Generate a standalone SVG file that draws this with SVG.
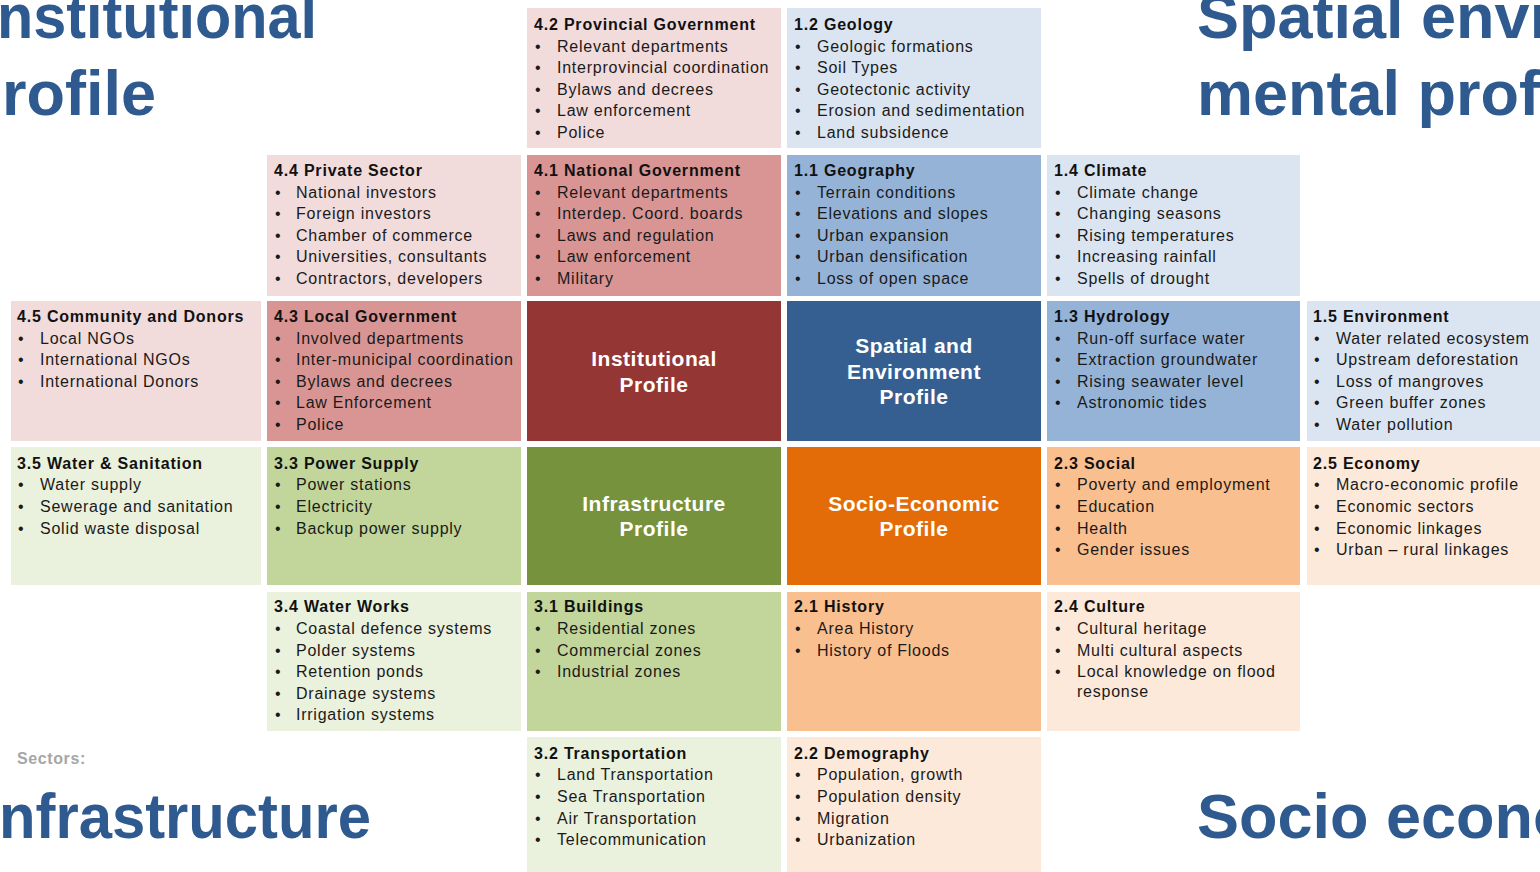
<svg xmlns="http://www.w3.org/2000/svg" width="1540" height="872" viewBox="0 0 1540 872">
<style>
.big{font-family:"Liberation Sans",Arial,sans-serif;font-weight:bold;font-size:63px;fill:#2F5A8F}
.t{font-family:"Liberation Sans",Arial,sans-serif;font-weight:bold;font-size:16px;fill:#111;letter-spacing:0.8px}
.i{font-family:"Liberation Sans",Arial,sans-serif;font-size:16px;fill:#1a1a1a;letter-spacing:0.75px}
.c{font-family:"Liberation Sans",Arial,sans-serif;font-weight:bold;font-size:21px;fill:#fff;text-anchor:middle;letter-spacing:0.5px}
.sec{font-family:"Liberation Sans",Arial,sans-serif;font-weight:bold;font-size:16px;fill:#A6A6A6;letter-spacing:0.6px}
.pk{fill:#F2DBDB}.rd{fill:#D99594}.dr{fill:#943634}
.lb{fill:#DBE5F1}.mb{fill:#95B3D7}.db{fill:#365F91}
.lg{fill:#EAF1DD}.mg{fill:#C2D69B}.dg{fill:#76923C}
.lo{fill:#FDE9D9}.mo{fill:#FABF8F}.do{fill:#E36C09}
</style>
<rect width="1540" height="872" fill="#fff"/>

<g id="bigtext">
<text class="big" x="-3" y="38" textLength="320" lengthAdjust="spacingAndGlyphs">nstitutional</text>
<text class="big" x="2" y="115">rofile</text>
<text class="big" x="1197" y="38">Spatial envi</text>
<text class="big" x="1197" y="115">mental prof</text>
<text class="big" x="-1" y="838" textLength="372" lengthAdjust="spacingAndGlyphs">nfrastructure</text>
<text class="big" x="1197" y="838">Socio econo</text>
<text class="sec" x="17" y="764">Sectors:</text>
</g>

<!-- Row 0 -->
<g id="n42">
<rect class="pk" x="527" y="8" width="254" height="140"/>
<text class="t" x="534" y="29.5">4.2 Provincial Government</text>
<text class="i" x="535" y="51.5">•</text><text class="i" x="557" y="51.5">Relevant departments</text>
<text class="i" x="535" y="73">•</text><text class="i" x="557" y="73">Interprovincial coordination</text>
<text class="i" x="535" y="94.5">•</text><text class="i" x="557" y="94.5">Bylaws and decrees</text>
<text class="i" x="535" y="116">•</text><text class="i" x="557" y="116">Law enforcement</text>
<text class="i" x="535" y="137.5">•</text><text class="i" x="557" y="137.5">Police</text>
</g>
<g id="n12">
<rect class="lb" x="787" y="8" width="254" height="140"/>
<text class="t" x="794" y="29.5">1.2 Geology</text>
<text class="i" x="795" y="51.5">•</text><text class="i" x="817" y="51.5">Geologic formations</text>
<text class="i" x="795" y="73">•</text><text class="i" x="817" y="73">Soil Types</text>
<text class="i" x="795" y="94.5">•</text><text class="i" x="817" y="94.5">Geotectonic activity</text>
<text class="i" x="795" y="116">•</text><text class="i" x="817" y="116">Erosion and sedimentation</text>
<text class="i" x="795" y="137.5">•</text><text class="i" x="817" y="137.5">Land subsidence</text>
</g>

<!-- Row 1 -->
<g id="n44">
<rect class="pk" x="267" y="155" width="254" height="141"/>
<text class="t" x="274" y="175.5">4.4 Private Sector</text>
<text class="i" x="275" y="197.5">•</text><text class="i" x="296" y="197.5">National investors</text>
<text class="i" x="275" y="219">•</text><text class="i" x="296" y="219">Foreign investors</text>
<text class="i" x="275" y="240.5">•</text><text class="i" x="296" y="240.5">Chamber of commerce</text>
<text class="i" x="275" y="262">•</text><text class="i" x="296" y="262">Universities, consultants</text>
<text class="i" x="275" y="283.5">•</text><text class="i" x="296" y="283.5">Contractors, developers</text>
</g>
<g id="n41">
<rect class="rd" x="527" y="155" width="254" height="141"/>
<text class="t" x="534" y="175.5">4.1 National Government</text>
<text class="i" x="535" y="197.5">•</text><text class="i" x="557" y="197.5">Relevant departments</text>
<text class="i" x="535" y="219">•</text><text class="i" x="557" y="219">Interdep. Coord. boards</text>
<text class="i" x="535" y="240.5">•</text><text class="i" x="557" y="240.5">Laws and regulation</text>
<text class="i" x="535" y="262">•</text><text class="i" x="557" y="262">Law enforcement</text>
<text class="i" x="535" y="283.5">•</text><text class="i" x="557" y="283.5">Military</text>
</g>
<g id="n11">
<rect class="mb" x="787" y="155" width="254" height="141"/>
<text class="t" x="794" y="175.5">1.1 Geography</text>
<text class="i" x="795" y="197.5">•</text><text class="i" x="817" y="197.5">Terrain conditions</text>
<text class="i" x="795" y="219">•</text><text class="i" x="817" y="219">Elevations and slopes</text>
<text class="i" x="795" y="240.5">•</text><text class="i" x="817" y="240.5">Urban expansion</text>
<text class="i" x="795" y="262">•</text><text class="i" x="817" y="262">Urban densification</text>
<text class="i" x="795" y="283.5">•</text><text class="i" x="817" y="283.5">Loss of open space</text>
</g>
<g id="n14">
<rect class="lb" x="1047" y="155" width="253" height="141"/>
<text class="t" x="1054" y="175.5">1.4 Climate</text>
<text class="i" x="1055" y="197.5">•</text><text class="i" x="1077" y="197.5">Climate change</text>
<text class="i" x="1055" y="219">•</text><text class="i" x="1077" y="219">Changing seasons</text>
<text class="i" x="1055" y="240.5">•</text><text class="i" x="1077" y="240.5">Rising temperatures</text>
<text class="i" x="1055" y="262">•</text><text class="i" x="1077" y="262">Increasing rainfall</text>
<text class="i" x="1055" y="283.5">•</text><text class="i" x="1077" y="283.5">Spells of drought</text>
</g>

<!-- Row 2 -->
<g id="n45">
<rect class="pk" x="11" y="301" width="250" height="140"/>
<text class="t" x="17" y="321.5">4.5 Community and Donors</text>
<text class="i" x="18" y="343.5">•</text><text class="i" x="40" y="343.5">Local NGOs</text>
<text class="i" x="18" y="365">•</text><text class="i" x="40" y="365">International NGOs</text>
<text class="i" x="18" y="386.5">•</text><text class="i" x="40" y="386.5">International Donors</text>
</g>
<g id="n43">
<rect class="rd" x="267" y="301" width="254" height="140"/>
<text class="t" x="274" y="321.5">4.3 Local Government</text>
<text class="i" x="275" y="343.5">•</text><text class="i" x="296" y="343.5">Involved departments</text>
<text class="i" x="275" y="365">•</text><text class="i" x="296" y="365">Inter-municipal coordination</text>
<text class="i" x="275" y="386.5">•</text><text class="i" x="296" y="386.5">Bylaws and decrees</text>
<text class="i" x="275" y="408">•</text><text class="i" x="296" y="408">Law Enforcement</text>
<text class="i" x="275" y="429.5">•</text><text class="i" x="296" y="429.5">Police</text>
</g>
<g id="inst">
<rect class="dr" x="527" y="301" width="254" height="140"/>
<text class="c" x="654" y="365.5">Institutional</text>
<text class="c" x="654" y="391.5">Profile</text>
</g>
<g id="spat">
<rect class="db" x="787" y="301" width="254" height="140"/>
<text class="c" x="914" y="352.5">Spatial and</text>
<text class="c" x="914" y="378.5">Environment</text>
<text class="c" x="914" y="403.5">Profile</text>
</g>
<g id="n13">
<rect class="mb" x="1047" y="301" width="253" height="140"/>
<text class="t" x="1054" y="321.5">1.3 Hydrology</text>
<text class="i" x="1055" y="343.5">•</text><text class="i" x="1077" y="343.5">Run-off surface  water</text>
<text class="i" x="1055" y="365">•</text><text class="i" x="1077" y="365">Extraction groundwater</text>
<text class="i" x="1055" y="386.5">•</text><text class="i" x="1077" y="386.5">Rising seawater level</text>
<text class="i" x="1055" y="408">•</text><text class="i" x="1077" y="408">Astronomic tides</text>
</g>
<g id="n15">
<rect class="lb" x="1307" y="301" width="233" height="140"/>
<text class="t" x="1313" y="321.5">1.5 Environment</text>
<text class="i" x="1314" y="343.5">•</text><text class="i" x="1336" y="343.5">Water related ecosystem</text>
<text class="i" x="1314" y="365">•</text><text class="i" x="1336" y="365">Upstream deforestation</text>
<text class="i" x="1314" y="386.5">•</text><text class="i" x="1336" y="386.5">Loss of mangroves</text>
<text class="i" x="1314" y="408">•</text><text class="i" x="1336" y="408">Green buffer zones</text>
<text class="i" x="1314" y="429.5">•</text><text class="i" x="1336" y="429.5">Water pollution</text>
</g>

<!-- Row 3 -->
<g id="n35">
<rect class="lg" x="11" y="447" width="250" height="138"/>
<text class="t" x="17" y="468.5">3.5 Water &amp; Sanitation</text>
<text class="i" x="18" y="490">•</text><text class="i" x="40" y="490">Water supply</text>
<text class="i" x="18" y="512">•</text><text class="i" x="40" y="512">Sewerage and sanitation</text>
<text class="i" x="18" y="533.5">•</text><text class="i" x="40" y="533.5">Solid waste disposal</text>
</g>
<g id="n33">
<rect class="mg" x="267" y="447" width="254" height="138"/>
<text class="t" x="274" y="468.5">3.3 Power Supply</text>
<text class="i" x="275" y="490">•</text><text class="i" x="296" y="490">Power stations</text>
<text class="i" x="275" y="512">•</text><text class="i" x="296" y="512">Electricity</text>
<text class="i" x="275" y="533.5">•</text><text class="i" x="296" y="533.5">Backup power supply</text>
</g>
<g id="infra">
<rect class="dg" x="527" y="447" width="254" height="138"/>
<text class="c" x="654" y="510.5">Infrastructure</text>
<text class="c" x="654" y="535.5">Profile</text>
</g>
<g id="socio">
<rect class="do" x="787" y="447" width="254" height="138"/>
<text class="c" x="914" y="510.5">Socio-Economic</text>
<text class="c" x="914" y="535.5">Profile</text>
</g>
<g id="n23">
<rect class="mo" x="1047" y="447" width="253" height="138"/>
<text class="t" x="1054" y="468.5">2.3 Social</text>
<text class="i" x="1055" y="490">•</text><text class="i" x="1077" y="490">Poverty and employment</text>
<text class="i" x="1055" y="512">•</text><text class="i" x="1077" y="512">Education</text>
<text class="i" x="1055" y="533.5">•</text><text class="i" x="1077" y="533.5">Health</text>
<text class="i" x="1055" y="555">•</text><text class="i" x="1077" y="555">Gender issues</text>
</g>
<g id="n25">
<rect class="lo" x="1307" y="447" width="233" height="138"/>
<text class="t" x="1313" y="468.5">2.5 Economy</text>
<text class="i" x="1314" y="490">•</text><text class="i" x="1336" y="490">Macro-economic profile</text>
<text class="i" x="1314" y="512">•</text><text class="i" x="1336" y="512">Economic sectors</text>
<text class="i" x="1314" y="533.5">•</text><text class="i" x="1336" y="533.5">Economic linkages</text>
<text class="i" x="1314" y="555">•</text><text class="i" x="1336" y="555">Urban – rural linkages</text>
</g>

<!-- Row 4 -->
<g id="n34">
<rect class="lg" x="267" y="592" width="254" height="139"/>
<text class="t" x="274" y="611.5">3.4 Water Works</text>
<text class="i" x="275" y="633.5">•</text><text class="i" x="296" y="633.5">Coastal defence systems</text>
<text class="i" x="275" y="655.5">•</text><text class="i" x="296" y="655.5">Polder systems</text>
<text class="i" x="275" y="677">•</text><text class="i" x="296" y="677">Retention ponds</text>
<text class="i" x="275" y="698.5">•</text><text class="i" x="296" y="698.5">Drainage systems</text>
<text class="i" x="275" y="720">•</text><text class="i" x="296" y="720">Irrigation systems</text>
</g>
<g id="n31">
<rect class="mg" x="527" y="592" width="254" height="139"/>
<text class="t" x="534" y="611.5">3.1 Buildings</text>
<text class="i" x="535" y="633.5">•</text><text class="i" x="557" y="633.5">Residential zones</text>
<text class="i" x="535" y="655.5">•</text><text class="i" x="557" y="655.5">Commercial zones</text>
<text class="i" x="535" y="677">•</text><text class="i" x="557" y="677">Industrial zones</text>
</g>
<g id="n21">
<rect class="mo" x="787" y="592" width="254" height="139"/>
<text class="t" x="794" y="611.5">2.1 History</text>
<text class="i" x="795" y="633.5">•</text><text class="i" x="817" y="633.5">Area History</text>
<text class="i" x="795" y="655.5">•</text><text class="i" x="817" y="655.5">History of Floods</text>
</g>
<g id="n24">
<rect class="lo" x="1047" y="592" width="253" height="139"/>
<text class="t" x="1054" y="611.5">2.4 Culture</text>
<text class="i" x="1055" y="633.5">•</text><text class="i" x="1077" y="633.5">Cultural heritage</text>
<text class="i" x="1055" y="655.5">•</text><text class="i" x="1077" y="655.5">Multi cultural aspects</text>
<text class="i" x="1055" y="677">•</text><text class="i" x="1077" y="677">Local knowledge on flood</text>
<text class="i" x="1077" y="696.5">response</text>
</g>

<!-- Row 5 -->
<g id="n32">
<rect class="lg" x="527" y="737" width="254" height="135"/>
<text class="t" x="534" y="758.5">3.2 Transportation</text>
<text class="i" x="535" y="780">•</text><text class="i" x="557" y="780">Land Transportation</text>
<text class="i" x="535" y="802">•</text><text class="i" x="557" y="802">Sea Transportation</text>
<text class="i" x="535" y="823.5">•</text><text class="i" x="557" y="823.5">Air Transportation</text>
<text class="i" x="535" y="845">•</text><text class="i" x="557" y="845">Telecommunication</text>
</g>
<g id="n22">
<rect class="lo" x="787" y="737" width="254" height="135"/>
<text class="t" x="794" y="758.5">2.2 Demography</text>
<text class="i" x="795" y="780">•</text><text class="i" x="817" y="780">Population, growth</text>
<text class="i" x="795" y="802">•</text><text class="i" x="817" y="802">Population density</text>
<text class="i" x="795" y="823.5">•</text><text class="i" x="817" y="823.5">Migration</text>
<text class="i" x="795" y="845">•</text><text class="i" x="817" y="845">Urbanization</text>
</g>
</svg>
